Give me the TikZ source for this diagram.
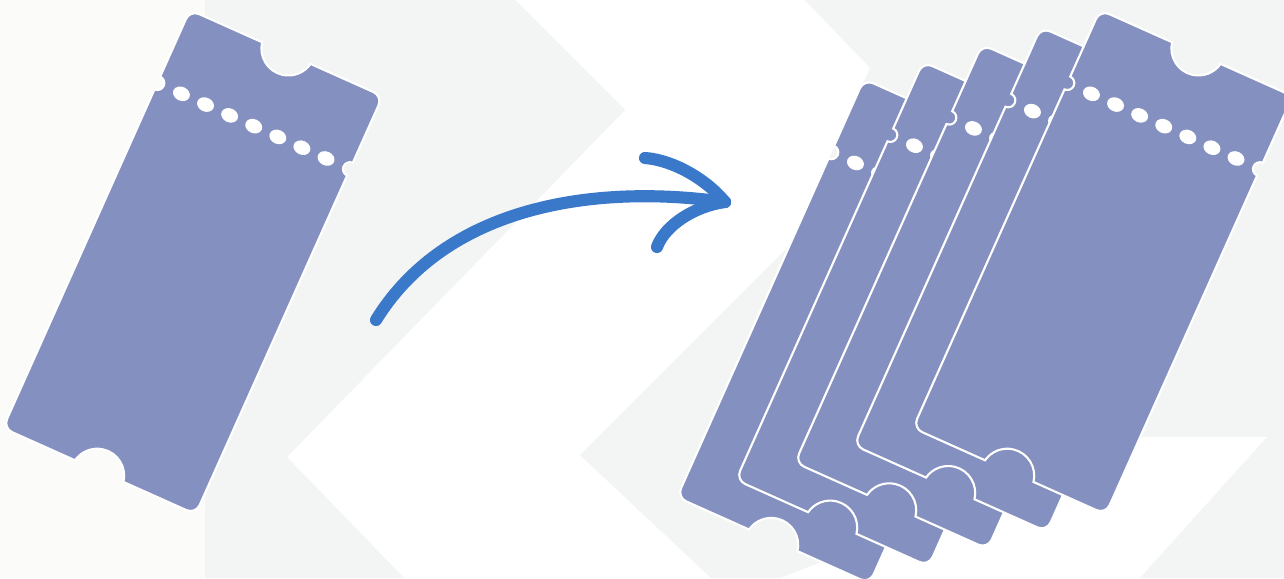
\documentclass[tikz,border=0pt]{standalone}
\usepackage{xcolor}
\usepackage{tikz}

\definecolor{ticketblue}{HTML}{8490BF}
\definecolor{arrowblue}{HTML}{3A78C9}
\definecolor{paleback}{HTML}{FBFBFA}
\definecolor{greyback}{HTML}{F2F5F3}

\begin{document}
\begin{tikzpicture}[
    x=0.02cm, y=0.02cm,
    ticketbody/.style={fill=ticketblue, draw=white, line width=1.2pt},
    tickethole/.style={fill=white, draw=none},
    curvearrow/.style={draw=arrowblue, line width=6.9pt, line cap=round, line join=round},
    pics/ticket/.style={code={
        \draw[ticketbody] (10,0) -- (79,0)
            arc[start angle=190.7, end angle=349.3, radius=0.54cm] -- (201,0)
            arc[start angle=90, end angle=0, radius=0.2cm] -- (211,-73)
            arc[start angle=90, end angle=270, radius=0.14cm] -- (211,-448)
            arc[start angle=0, end angle=-90, radius=0.2cm] -- (132,-458)
            arc[start angle=10.7, end angle=169.3, radius=0.54cm] -- (10,-458)
            arc[start angle=270, end angle=180, radius=0.2cm] -- (0,-87)
            arc[start angle=-90, end angle=90, radius=0.14cm] -- (0,-10)
            arc[start angle=180, end angle=90, radius=0.2cm] -- cycle;
        \foreach \k in {1,...,7}
            \fill[tickethole] (26.4*\k,-80) ellipse[x radius=0.175cm, y radius=0.14cm];
    }},
]

% --- Background ---
\useasboundingbox (0,0) rectangle (1284,578);
\clip (0,0) rectangle (1284,578);
\fill[white] (0,0) rectangle (1284,578);
\fill[paleback] (0,0) rectangle (205,578);
\fill[greyback] (205,578) -- (515,578) -- (625,468) -- (287,121) -- (404,0) -- (205,0) -- cycle;
\fill[greyback] (805,578) -- (1284,578) -- (1284,0) -- (1140,0) -- (1267,141) -- (1143,141)
    -- (780,0) -- (711,0) -- (580,123) -- (790,333) -- (870,510) -- cycle;

% --- Single ticket ---
\pic[rotate=-24.1] at (190,568) {ticket};

% --- Stack of tickets ---
\foreach \n in {4,3,2,1,0}
    \pic[rotate=-24.1] at (1100-59*\n,568-17.3*\n) {ticket};

% --- Arrow ---
\coordinate (tail) at (376,258);
\coordinate (tip) at (725,376);
\coordinate (headup) at (645,420);
\coordinate (headdown) at (657,331);
\draw[curvearrow] (tail) .. controls (445,370) and (590,395) .. (tip);
\draw[curvearrow] (headup) .. controls (672,418) and (705,400) .. (tip);
\draw[curvearrow] (headdown) .. controls (665,353) and (695,372) .. (tip);

\end{tikzpicture}
\end{document}
